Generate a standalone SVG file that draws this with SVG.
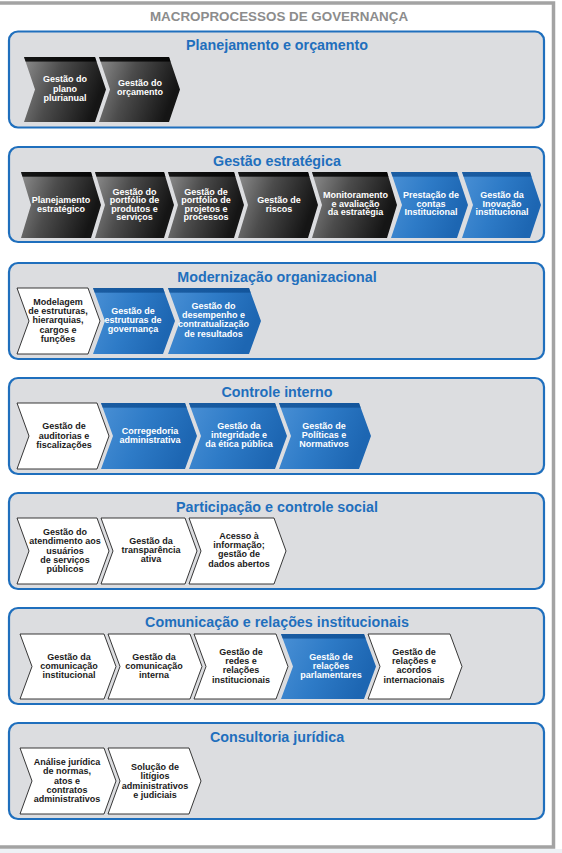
<svg xmlns="http://www.w3.org/2000/svg" width="562" height="853" viewBox="0 0 562 853">
<defs>
<linearGradient id="gDark" x1="0" y1="0" x2="1" y2="0.3">
<stop offset="0" stop-color="#8e8e8e"/><stop offset="0.45" stop-color="#4c4c4c"/><stop offset="1" stop-color="#151515"/>
</linearGradient>
<linearGradient id="gBlue" x1="0" y1="0" x2="1" y2="0.3">
<stop offset="0" stop-color="#4a90d5"/><stop offset="0.5" stop-color="#2e7bc7"/><stop offset="1" stop-color="#1d66b2"/>
</linearGradient>
<linearGradient id="gBandDark" x1="0" y1="0" x2="0" y2="1">
<stop offset="0" stop-color="#000" stop-opacity="0.85"/><stop offset="0.065" stop-color="#000" stop-opacity="0.85"/><stop offset="0.075" stop-color="#000" stop-opacity="0"/><stop offset="1" stop-color="#000" stop-opacity="0"/>
</linearGradient>
<linearGradient id="gBandBlue" x1="0" y1="0" x2="0" y2="1">
<stop offset="0" stop-color="#0f4f94" stop-opacity="0.8"/><stop offset="0.065" stop-color="#0f4f94" stop-opacity="0.8"/><stop offset="0.075" stop-color="#0f4f94" stop-opacity="0"/><stop offset="1" stop-color="#0f4f94" stop-opacity="0"/>
</linearGradient>
</defs>
<style>
.panel{fill:#dcdde0;stroke:#1f6fbd;stroke-width:2.2}
.ptitle{font-family:"Liberation Sans",Arial,sans-serif;font-weight:bold;font-size:14.3px;fill:#1f6fbd;text-anchor:middle}
.main{font-family:"Liberation Sans",Arial,sans-serif;font-weight:bold;font-size:13.4px;fill:#8c8c8c;text-anchor:middle}
.dark{fill:url(#gDark)}
.blue{fill:url(#gBlue)}
.bandD{fill:url(#gBandDark)}
.bandB{fill:url(#gBandBlue)}
.white{fill:#fff;stroke:#222;stroke-width:0.9}
.lt{font-family:"Liberation Sans",Arial,sans-serif;font-weight:bold;font-size:9px;fill:#fff;text-anchor:middle}
.dt{font-family:"Liberation Sans",Arial,sans-serif;font-weight:bold;font-size:9px;fill:#1a1a1a;text-anchor:middle}
</style>
<rect x="0" y="0" width="562" height="853" fill="#fff"/>
<rect x="0" y="849" width="562" height="4" fill="#eef2f6"/>
<polyline points="0,3 553.5,3 553.5,847 0,847" fill="none" stroke="#a3a3a3" stroke-width="3.5"/>
<text class="main" x="279" y="21">MACROPROCESSOS DE GOVERNANÇA</text>

<g id="connectors"/>

<!-- Section 1 -->
<g id="sec-planejamento">
<rect class="panel" x="9" y="31.5" width="535" height="96" rx="9"/>
<text class="ptitle" x="277" y="50">Planejamento e orçamento</text>
</g>
<g id="n-plano-plurianual">
<path class="dark" d="M24,57 L95,57 L106,89.5 L95,122 L24,122 L35,89.5 Z"/>
<path class="bandD" d="M24,57 L95,57 L106,89.5 L95,122 L24,122 L35,89.5 Z"/>
<text class="lt"><tspan x="65" y="82.3">Gestão do</tspan><tspan x="65" y="91.5">plano</tspan><tspan x="65" y="100.7">plurianual</tspan></text>
</g>
<g id="n-orcamento">
<path class="dark" d="M99,57 L169,57 L180,89.5 L169,122 L99,122 L110,89.5 Z"/>
<path class="bandD" d="M99,57 L169,57 L180,89.5 L169,122 L99,122 L110,89.5 Z"/>
<text class="lt"><tspan x="140" y="86">Gestão do</tspan><tspan x="140" y="95">orçamento</tspan></text>
</g>

<!-- Section 2 -->
<g id="sec-estrategica">
<rect class="panel" x="9" y="147" width="535" height="95" rx="9"/>
<text class="ptitle" x="277" y="166">Gestão estratégica</text>
</g>
<g id="n-planejamento-estrategico">
<path class="dark" d="M21,172 L91,172 L101,205 L91,238 L21,238 L31,205 Z"/>
<path class="bandD" d="M21,172 L91,172 L101,205 L91,238 L21,238 L31,205 Z"/>
<text class="lt"><tspan x="61" y="203.3">Planejamento</tspan><tspan x="61" y="211.7">estratégico</tspan></text>
</g>
<g id="n-portfolio-produtos">
<path class="dark" d="M95,172 L164,172 L174,205 L164,238 L95,238 L105,205 Z"/>
<path class="bandD" d="M95,172 L164,172 L174,205 L164,238 L95,238 L105,205 Z"/>
<text class="lt"><tspan x="134.5" y="194.5">Gestão do</tspan><tspan x="134.5" y="203">portfólio de</tspan><tspan x="134.5" y="211.5">produtos e</tspan><tspan x="134.5" y="220">serviços</tspan></text>
</g>
<g id="n-portfolio-projetos">
<path class="dark" d="M168,172 L234,172 L244,205 L234,238 L168,238 L178,205 Z"/>
<path class="bandD" d="M168,172 L234,172 L244,205 L234,238 L168,238 L178,205 Z"/>
<text class="lt"><tspan x="206" y="194.5">Gestão de</tspan><tspan x="206" y="203">portfólio de</tspan><tspan x="206" y="211.5">projetos e</tspan><tspan x="206" y="220">processos</tspan></text>
</g>
<g id="n-riscos">
<path class="dark" d="M238,172 L308,172 L318,205 L308,238 L238,238 L248,205 Z"/>
<path class="bandD" d="M238,172 L308,172 L318,205 L308,238 L238,238 L248,205 Z"/>
<text class="lt"><tspan x="279" y="203.3">Gestão de</tspan><tspan x="279" y="211.7">riscos</tspan></text>
</g>
<g id="n-monitoramento">
<path class="dark" d="M312,172 L387,172 L397,205 L387,238 L312,238 L322,205 Z"/>
<path class="bandD" d="M312,172 L387,172 L397,205 L387,238 L312,238 L322,205 Z"/>
<text class="lt"><tspan x="355.5" y="198">Monitoramento</tspan><tspan x="355.5" y="206.5">e avaliação</tspan><tspan x="355.5" y="215">da estratégia</tspan></text>
</g>
<g id="n-prestacao-contas">
<path class="blue" d="M391,172 L457,172 L468,205 L457,238 L391,238 L402,205 Z"/>
<path class="bandB" d="M391,172 L457,172 L468,205 L457,238 L391,238 L402,205 Z"/>
<text class="lt"><tspan x="431" y="198">Prestação de</tspan><tspan x="431" y="206.5">contas</tspan><tspan x="431" y="215">Institucional</tspan></text>
</g>
<g id="n-inovacao">
<path class="blue" d="M462,172 L530,172 L541,205 L530,238 L462,238 L473,205 Z"/>
<path class="bandB" d="M462,172 L530,172 L541,205 L530,238 L462,238 L473,205 Z"/>
<text class="lt"><tspan x="502" y="198">Gestão da</tspan><tspan x="502" y="206.5">Inovação</tspan><tspan x="502" y="215">institucional</tspan></text>
</g>

<!-- Section 3 -->
<g id="sec-modernizacao">
<rect class="panel" x="9" y="263" width="535" height="96" rx="9"/>
<text class="ptitle" x="277" y="282">Modernização organizacional</text>
</g>
<g id="n-modelagem">
<path class="white" d="M17,288 L88,288 L100,321 L88,354 L17,354 L29,321 Z"/>
<text class="dt"><tspan x="58" y="305">Modelagem</tspan><tspan x="58" y="314.2">de estruturas,</tspan><tspan x="58" y="323.4">hierarquias,</tspan><tspan x="58" y="332.6">cargos e</tspan><tspan x="58" y="341.8">funções</tspan></text>
</g>
<g id="n-estruturas-governanca">
<path class="blue" d="M93,288 L163,288 L175,321 L163,354 L93,354 L105,321 Z"/>
<path class="bandB" d="M93,288 L163,288 L175,321 L163,354 L93,354 L105,321 Z"/>
<text class="lt"><tspan x="133" y="314">Gestão de</tspan><tspan x="133" y="323.2">estruturas de</tspan><tspan x="133" y="332.4">governança</tspan></text>
</g>
<g id="n-desempenho">
<path class="blue" d="M168,288 L249,288 L261,321 L249,354 L168,354 L180,321 Z"/>
<path class="bandB" d="M168,288 L249,288 L261,321 L249,354 L168,354 L180,321 Z"/>
<text class="lt"><tspan x="213.5" y="309">Gestão do</tspan><tspan x="213.5" y="318.2">desempenho e</tspan><tspan x="213.5" y="327.4">contratualização</tspan><tspan x="213.5" y="336.6">de resultados</tspan></text>
</g>

<!-- Section 4 -->
<g id="sec-controle-interno">
<rect class="panel" x="9" y="378" width="535" height="96" rx="9"/>
<text class="ptitle" x="277" y="397">Controle interno</text>
</g>
<g id="n-auditorias">
<path class="white" d="M17,403 L97,403 L109,436 L97,469 L17,469 L29,436 Z"/>
<text class="dt"><tspan x="64" y="429.3">Gestão de</tspan><tspan x="64" y="438.5">auditorias e</tspan><tspan x="64" y="447.7">fiscalizações</tspan></text>
</g>
<g id="n-corregedoria">
<path class="blue" d="M101,403 L185,403 L197,436 L185,469 L101,469 L113,436 Z"/>
<path class="bandB" d="M101,403 L185,403 L197,436 L185,469 L101,469 L113,436 Z"/>
<text class="lt"><tspan x="150" y="434">Corregedoria</tspan><tspan x="150" y="443">administrativa</tspan></text>
</g>
<g id="n-integridade">
<path class="blue" d="M189,403 L275,403 L287,436 L275,469 L189,469 L201,436 Z"/>
<path class="bandB" d="M189,403 L275,403 L287,436 L275,469 L189,469 L201,436 Z"/>
<text class="lt"><tspan x="239" y="429">Gestão da</tspan><tspan x="239" y="438.2">integridade e</tspan><tspan x="239" y="447.4">da ética pública</tspan></text>
</g>
<g id="n-politicas">
<path class="blue" d="M279,403 L359,403 L371,436 L359,469 L279,469 L291,436 Z"/>
<path class="bandB" d="M279,403 L359,403 L371,436 L359,469 L279,469 L291,436 Z"/>
<text class="lt"><tspan x="324" y="428.5">Gestão de</tspan><tspan x="324" y="437.7">Políticas e</tspan><tspan x="324" y="446.9">Normativos</tspan></text>
</g>

<!-- Section 5 -->
<g id="sec-participacao">
<rect class="panel" x="9" y="493" width="535" height="96" rx="9"/>
<text class="ptitle" x="277" y="512">Participação e controle social</text>
</g>
<g id="n-atendimento">
<path class="white" d="M17,518 L97,518 L109,551 L97,584 L17,584 L29,551 Z"/>
<text class="dt"><tspan x="65" y="535.1">Gestão do</tspan><tspan x="65" y="544.3">atendimento aos</tspan><tspan x="65" y="553.5">usuários</tspan><tspan x="65" y="562.7">de serviços</tspan><tspan x="65" y="571.9">públicos</tspan></text>
</g>
<g id="n-transparencia">
<path class="white" d="M101,518 L185,518 L197,551 L185,584 L101,584 L113,551 Z"/>
<text class="dt"><tspan x="151" y="544">Gestão da</tspan><tspan x="151" y="553.2">transparência</tspan><tspan x="151" y="562.4">ativa</tspan></text>
</g>
<g id="n-acesso-informacao">
<path class="white" d="M189,518 L274,518 L286,551 L274,584 L189,584 L201,551 Z"/>
<text class="dt"><tspan x="239" y="539">Acesso à</tspan><tspan x="239" y="548.2">informação;</tspan><tspan x="239" y="557.4">gestão de</tspan><tspan x="239" y="566.6">dados abertos</tspan></text>
</g>

<!-- Section 6 -->
<g id="sec-comunicacao">
<rect class="panel" x="9" y="608" width="535" height="96" rx="9"/>
<text class="ptitle" x="277" y="627">Comunicação e relações institucionais</text>
</g>
<g id="n-com-institucional">
<path class="white" d="M20,634 L104,634 L116,666.5 L104,699 L20,699 L32,666.5 Z"/>
<text class="dt"><tspan x="69" y="659.5">Gestão da</tspan><tspan x="69" y="668.7">comunicação</tspan><tspan x="69" y="677.9">institucional</tspan></text>
</g>
<g id="n-com-interna">
<path class="white" d="M108,634 L190,634 L202,666.5 L190,699 L108,699 L120,666.5 Z"/>
<text class="dt"><tspan x="154" y="659.5">Gestão da</tspan><tspan x="154" y="668.7">comunicação</tspan><tspan x="154" y="677.9">interna</tspan></text>
</g>
<g id="n-redes">
<path class="white" d="M194,634 L276,634 L288,666.5 L276,699 L194,699 L206,666.5 Z"/>
<text class="dt"><tspan x="241" y="654.6">Gestão de</tspan><tspan x="241" y="663.9">redes e</tspan><tspan x="241" y="673.2">relações</tspan><tspan x="241" y="682.5">institucionais</tspan></text>
</g>
<g id="n-parlamentares">
<path class="blue" d="M281,634 L364,634 L376,666.5 L364,699 L281,699 L293,666.5 Z"/>
<path class="bandB" d="M281,634 L364,634 L376,666.5 L364,699 L281,699 L293,666.5 Z"/>
<text class="lt"><tspan x="331" y="659.5">Gestão de</tspan><tspan x="331" y="668.7">relações</tspan><tspan x="331" y="677.9">parlamentares</tspan></text>
</g>
<g id="n-internacionais">
<path class="white" d="M368,634 L450,634 L462,666.5 L450,699 L368,699 L380,666.5 Z"/>
<text class="dt"><tspan x="414" y="654.6">Gestão de</tspan><tspan x="414" y="663.9">relações e</tspan><tspan x="414" y="673.2">acordos</tspan><tspan x="414" y="682.5">internacionais</tspan></text>
</g>

<!-- Section 7 -->
<g id="sec-consultoria">
<rect class="panel" x="9" y="723" width="535" height="96" rx="9"/>
<text class="ptitle" x="277" y="742">Consultoria jurídica</text>
</g>
<g id="n-analise-juridica">
<path class="white" d="M20,748 L104,748 L116,781 L104,814 L20,814 L32,781 Z"/>
<text class="dt"><tspan x="67" y="765">Análise jurídica</tspan><tspan x="67" y="774.3">de normas,</tspan><tspan x="67" y="783.6">atos e</tspan><tspan x="67" y="792.9">contratos</tspan><tspan x="67" y="802.2">administrativos</tspan></text>
</g>
<g id="n-litigios">
<path class="white" d="M108,748 L189,748 L201,781 L189,814 L108,814 L120,781 Z"/>
<text class="dt"><tspan x="155" y="770">Solução de</tspan><tspan x="155" y="779.3">litígios</tspan><tspan x="155" y="788.6">administrativos</tspan><tspan x="155" y="797.9">e judiciais</tspan></text>
</g>
</svg>
